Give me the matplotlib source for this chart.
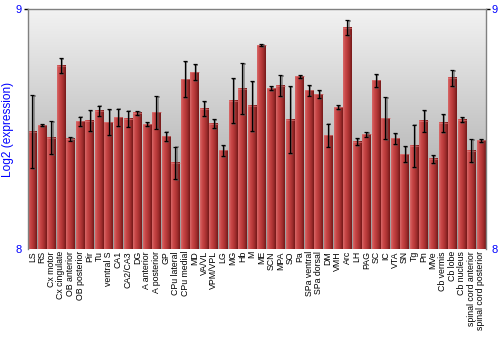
import numpy as np
import matplotlib
matplotlib.use('Agg')
import matplotlib.pyplot as plt
import matplotlib.transforms as mtransforms
from matplotlib.colors import LinearSegmentedColormap

plt.rcParams['font.family'] = ['Liberation Sans', 'DejaVu Sans']

regions = ['LS', 'RS', 'Cx motor', 'Cx cingulate', 'OB anterior', 'OB posterior',
           'Pir', 'Tu', 'ventral S', 'CA1', 'CA2/CA3', 'DG', 'A anterior',
           'A posterior', 'GP', 'CPu lateral', 'CPu medial', 'MD', 'VA/VL',
           'VPM/VPL', 'LG', 'MG', 'Hb', 'M', 'ME', 'SCN', 'MPA', 'SO', 'Pa',
           'SPa ventral', 'SPa dorsal', 'DM', 'VMH', 'Arc', 'LH', 'PAG', 'SC',
           'IC', 'VTA', 'SN', 'Tg', 'Pn', 'MVe', 'Cb vermis', 'Cb lobe',
           'Cb nucleus', 'spinal cord anterior', 'spinal cord posterior']

expression = [8.490, 8.517, 8.465, 8.765, 8.460, 8.533, 8.535, 8.577, 8.529,
              8.550, 8.544, 8.568, 8.521, 8.570, 8.470, 8.359, 8.709, 8.738,
              8.586, 8.523, 8.412, 8.619, 8.669, 8.597, 8.851, 8.670, 8.682,
              8.540, 8.720, 8.662, 8.646, 8.475, 8.591, 8.924, 8.448, 8.479,
              8.703, 8.546, 8.461, 8.395, 8.430, 8.535, 8.376, 8.526, 8.714,
              8.540, 8.410, 8.453]

error = [0.153, 0.003, 0.069, 0.032, 0.008, 0.019, 0.044, 0.021, 0.055,
         0.036, 0.033, 0.008, 0.008, 0.068, 0.020, 0.068, 0.075, 0.034,
         0.032, 0.020, 0.023, 0.095, 0.106, 0.105, 0.005, 0.008, 0.044,
         0.141, 0.006, 0.022, 0.017, 0.048, 0.009, 0.032, 0.013, 0.010,
         0.027, 0.088, 0.022, 0.033, 0.089, 0.045, 0.017, 0.038, 0.033,
         0.009, 0.047, 0.006]

y_min, y_max = 8, 9
c_label = '#0000ff'
c_spine = '#808080'

fig = plt.figure(figsize=(5, 3.5), dpi=100)
ax = fig.add_axes([0.055, 0.2886, 0.9164, 0.6848])

# background gradient, light at top
bg_cmap = LinearSegmentedColormap.from_list('bg', ['#9a9a9a', '#f2f2f2'])
ax.imshow(np.linspace(0, 1, 256).reshape(-1, 1), cmap=bg_cmap, origin='lower',
          aspect='auto', extent=[0, 1, 0, 1], transform=ax.transAxes, zorder=0)

# cylinder shading across each bar
bar_cmap = LinearSegmentedColormap.from_list(
    'bar', ['#d86a6a', '#c94848', '#b83a3a', '#9c2c2c', '#741818'])
grad = np.linspace(0, 1, 64).reshape(1, -1)
width = 0.88
x = np.arange(len(regions))
for xi, v in zip(x, expression):
    ax.imshow(grad, cmap=bar_cmap, aspect='auto', interpolation='bilinear',
              extent=[xi - width / 2, xi + width / 2, y_min, v], zorder=2)
    ax.plot([xi - width / 2, xi + width / 2], [v, v], color='#e08080',
            linewidth=0.6, alpha=0.7, zorder=2.5)

# error bars with a soft grey shadow
shadow = ax.transData + mtransforms.ScaledTranslation(1.3 / 100, -0.8 / 100,
                                                      fig.dpi_scale_trans)
ax.errorbar(x, expression, yerr=error, fmt='none', ecolor='#555555', alpha=0.6,
            elinewidth=1.2, capsize=1.6, capthick=1.2, zorder=3,
            transform=shadow)
ax.errorbar(x, expression, yerr=error, fmt='none', ecolor='black',
            elinewidth=0.9, capsize=1.6, capthick=0.9, zorder=4)

ax.set_xlim(-0.5, len(regions) - 0.5)
ax.set_ylim(y_min, y_max)

ax.set_xticks(x)
ax.set_xticklabels(regions, rotation=90, fontsize=6.3)
ax.tick_params(axis='x', length=0, pad=1.5)

ax.set_yticks([8, 9])
ax.set_yticklabels(['8', '9'])
ax.tick_params(axis='y', length=3, width=1, color='black', labelsize=8,
               labelcolor=c_label, pad=1, right=True, labelright=True)
for t in ax.yaxis.get_major_ticks()[:1]:
    t.tick1line.set_visible(False)
    t.tick2line.set_visible(False)

ax.set_ylabel('Log2 (expression)', fontsize=8.6, color=c_label)
ax.yaxis.set_label_coords(-0.029, 0.5)

for side in ['left', 'top', 'right']:
    ax.spines[side].set_color(c_spine)
    ax.spines[side].set_linewidth(1)
ax.spines['bottom'].set_visible(False)

fig.savefig('out.png', dpi=100)
